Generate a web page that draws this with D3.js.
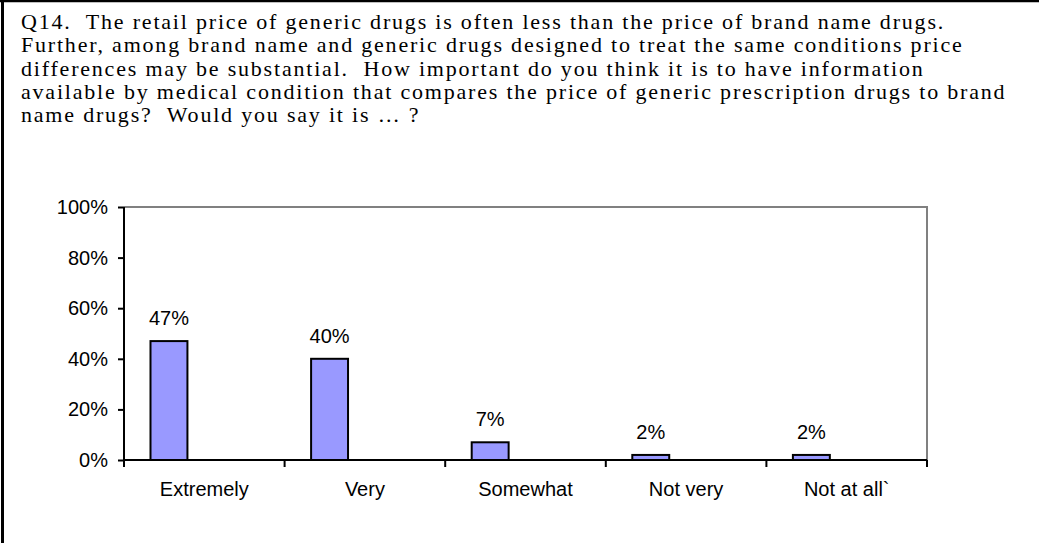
<!DOCTYPE html>
<html>
<head>
<meta charset="utf-8">
<script src="https://cdn.jsdelivr.net/npm/d3@7"></script>
<style>
  body { margin: 0; background: #fff; }
  svg { display: block; }
  .title { font-family: "Times New Roman", "Liberation Serif", serif; font-size: 22px; letter-spacing: 1.8px; fill: #000; white-space: pre; }
  .axis text, .lbl { font-family: Arial, "Liberation Sans", sans-serif; font-size: 20px; fill: #000; }
</style>
</head>
<body>
<div id="chart"></div>
<script>
var categories = ["Extremely", "Very", "Somewhat", "Not very", "Not at all`"];
var values = [0.47, 0.40, 0.07, 0.02, 0.02];
var yTicks = [0, 0.2, 0.4, 0.6, 0.8, 1.0];
var titleLines = [
  "Q14.  The retail price of generic drugs is often less than the price of brand name drugs.",
  "Further, among brand name and generic drugs designed to treat the same conditions price",
  "differences may be substantial.  How important do you think it is to have information",
  "available by medical condition that compares the price of generic prescription drugs to brand",
  "name drugs?  Would you say it is \u2026 ?"
];

var W = 1039, H = 543;
var plot = {left: 124, right: 927, top: 207, bottom: 460};

var svg = d3.select("#chart").append("svg")
    .attr("width", W)
    .attr("height", H);

// frame (only top + left visible in the original crop)
svg.append("line").attr("x1", 0).attr("x2", W).attr("y1", 1).attr("y2", 1)
    .attr("stroke", "#000").attr("stroke-width", 2.5);
svg.append("line").attr("x1", 2.5).attr("x2", 2.5).attr("y1", 0).attr("y2", H)
    .attr("stroke", "#000").attr("stroke-width", 3);

// question text
svg.append("text")
    .attr("class", "title")
    .selectAll("tspan")
    .data(titleLines)
    .enter().append("tspan")
      .attr("x", 21)
      .attr("y", function(d, i) { return 29 + i * 23.3; })
      .text(function(d) { return d; });

var x = d3.scaleBand()
    .domain(categories)
    .range([plot.left, plot.right])
    .padding(0);

var y = d3.scaleLinear()
    .domain([0, 1])
    .range([plot.bottom, plot.top]);

// plot area border, gray top + right
svg.append("path")
    .attr("d", "M" + plot.left + "," + plot.top + "H" + plot.right + "V" + plot.bottom)
    .attr("fill", "none")
    .attr("stroke", "#808080")
    .attr("stroke-width", 2);

// bars (left part of each category, second series is empty)
var bw = x.bandwidth();
svg.selectAll(".bar")
    .data(values)
    .enter().append("rect")
      .attr("class", "bar")
      .attr("x", function(d, i) { return x(categories[i]) + bw * 0.165; })
      .attr("y", function(d) { return y(d); })
      .attr("width", bw * 0.23)
      .attr("height", function(d) { return y(0) - y(d); })
      .attr("fill", "#9999FF")
      .attr("stroke", "#000")
      .attr("stroke-width", 2);

svg.selectAll(".lbl")
    .data(values)
    .enter().append("text")
      .attr("class", "lbl")
      .attr("x", function(d, i) { return x(categories[i]) + bw * 0.165 + bw * 0.115; })
      .attr("y", function(d) { return y(d) - 16; })
      .attr("text-anchor", "middle")
      .text(function(d) { return d3.format(".0%")(d); });

// y axis
var yAxis = svg.append("g")
    .attr("class", "axis")
    .attr("transform", "translate(" + plot.left + ",0)")
    .call(d3.axisLeft(y).tickValues(yTicks).tickFormat(d3.format(".0%")).tickSize(6).tickPadding(10));
yAxis.attr("font-size", 20).attr("font-family", "Arial, 'Liberation Sans', sans-serif");
yAxis.selectAll("line, path").attr("stroke", "#000").attr("stroke-width", 2);
yAxis.select(".domain").attr("d", "M0," + plot.top + "V" + plot.bottom);
yAxis.selectAll("text").attr("fill", "#000");

// x axis: labels centered, ticks on category boundaries
var xAxis = svg.append("g")
    .attr("class", "axis")
    .attr("transform", "translate(0," + plot.bottom + ")")
    .call(d3.axisBottom(x).tickSize(0).tickPadding(22));
xAxis.attr("font-size", 20).attr("font-family", "Arial, 'Liberation Sans', sans-serif");
xAxis.select(".domain").attr("stroke", "#000").attr("stroke-width", 2)
    .attr("d", "M" + plot.left + ",0H" + plot.right);
xAxis.selectAll("text").attr("fill", "#000");

var bounds = categories.map(function(c) { return x(c); }).concat([plot.right]);
xAxis.selectAll(".bound")
    .data(bounds)
    .enter().append("line")
      .attr("class", "bound")
      .attr("x1", function(d) { return d; })
      .attr("x2", function(d) { return d; })
      .attr("y1", 0)
      .attr("y2", 7)
      .attr("stroke", "#000")
      .attr("stroke-width", 2);
</script>
</body>
</html>
